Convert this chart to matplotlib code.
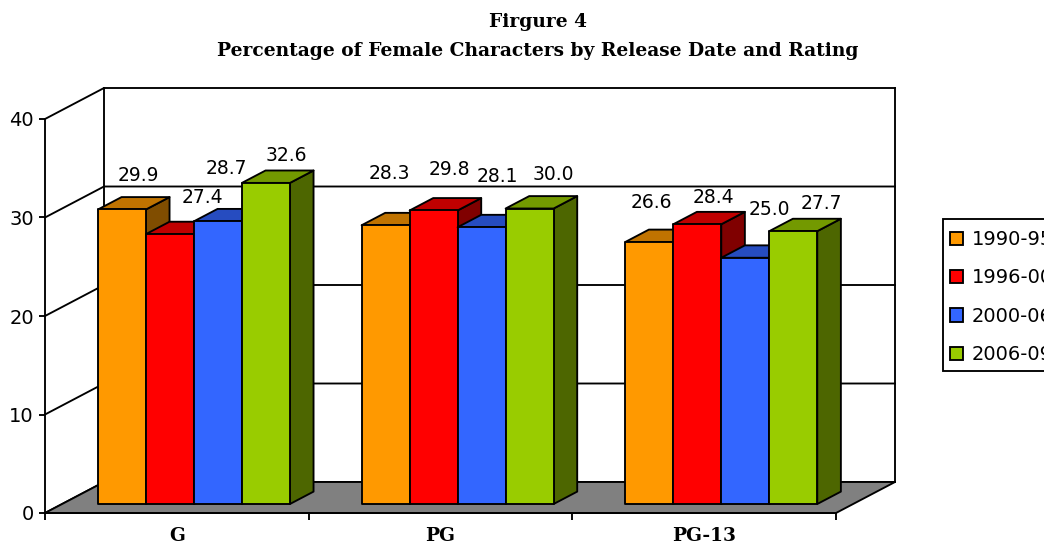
import matplotlib
matplotlib.use("Agg")
import matplotlib.pyplot as plt
from matplotlib.patches import Polygon, Patch, Rectangle

ratings = ["G", "PG", "PG-13"]
periods = ["1990-95", "1996-00", "2000-06", "2006-09"]
v1990 = [29.9, 28.3, 26.6]
v1996 = [27.4, 29.8, 28.4]
v2000 = [28.7, 28.1, 25.0]
v2006 = [32.6, 30.0, 27.7]
series = [v1990, v1996, v2000, v2006]
y_ticks = [0, 10, 20, 30, 40]

front = ["#FF9900", "#FF0000", "#3366FF", "#99CC00"]
top = ["#C07300", "#C00000", "#264CC0", "#739900"]
side = ["#804D00", "#800000", "#1A3380", "#4D6600"]

# label nudges in pixels from the centre of each bar's top edge
nudges = [[(16, -34), (32, -37), (8, -53), (20, -27)],
          [(4, -52), (16, -41), (16, -51), (24, -34)],
          [(2, -39), (16, -27), (24, -48), (28, -28)]]

W, H = 1044, 545
fig = plt.figure(figsize=(W / 100, H / 100), dpi=100, facecolor="white")
L, R, T, B = 45, 836, 119, 513
ax = fig.add_axes([L / W, 1 - B / H, (R - L) / W, (B - T) / H])
ax.set_xlim(0, 3)
ax.set_ylim(0, 40)
ax.patch.set_visible(False)

DX = 59 * 3 / (R - L)      # full chart depth, in x data units
DY = 31 * 40 / (B - T)     # full chart depth, in y data units


def P(x, y, d):
    return (x + DX * d, y + DY * d)


LW = 1.35
EDGE = "black"
SERIF = "DejaVu Serif"


def poly(pts, fc, z=1):
    ax.add_patch(Polygon(pts, closed=True, fc=fc, ec=EDGE, lw=LW, zorder=z,
                         clip_on=False, joinstyle="round"))


# walls
for v in y_ticks:
    ax.plot(*zip(P(0, v, 0), P(0, v, 1), P(3, v, 1)), color="black", lw=LW,
            clip_on=False, zorder=1)
ax.plot(*zip(P(0, 0, 1), P(0, 40, 1)), color="black", lw=LW, clip_on=False, zorder=1)
ax.plot(*zip(P(3, 0, 1), P(3, 40, 1)), color="black", lw=LW, clip_on=False, zorder=1)
# floor
poly([P(0, 0, 0), P(3, 0, 0), P(3, 0, 1), P(0, 0, 1)], "#808080", 1.5)

# bars
bw = 48 * 3 / (R - L)
margin = (1 - 4 * bw) / 2
d0, d1 = 0.29, 0.69
z = 2
for g in range(len(ratings)):
    for s in range(len(periods)):
        v = series[s][g]
        x0 = g + margin + s * bw
        x1 = x0 + bw
        poly([P(x1, 0, d0), P(x1, 0, d1), P(x1, v, d1), P(x1, v, d0)], side[s], z)
        poly([P(x0, v, d0), P(x1, v, d0), P(x1, v, d1), P(x0, v, d1)], top[s], z)
        poly([P(x0, 0, d0), P(x1, 0, d0), P(x1, v, d0), P(x0, v, d0)], front[s], z)
        z += 0.01
        nx, ny = nudges[g][s]
        ax.annotate(f"{v:.1f}", xy=P((x0 + x1) / 2, v, d0), xytext=(nx * 0.72, -ny * 0.72),
                    textcoords="offset points", ha="center", va="center",
                    fontsize=13.5, color="black", zorder=10, annotation_clip=False)

# axes
for sp in ("top", "right"):
    ax.spines[sp].set_visible(False)
for sp in ("left", "bottom"):
    ax.spines[sp].set_linewidth(LW)
    ax.spines[sp].set_zorder(3)
ax.set_yticks(y_ticks)
ax.tick_params(axis="y", length=4, width=LW, labelsize=14, pad=4)
ax.set_xticks(range(4))
ax.set_xticklabels([])
ax.tick_params(axis="x", which="major", length=5, width=LW)
ax.set_xticks([i + 0.5 for i in range(3)], minor=True)
ax.set_xticklabels(ratings, minor=True, family=SERIF, weight="bold", fontsize=13.4)
ax.tick_params(axis="x", which="minor", length=0, pad=10)

# title
fig.text(538 / W, 1 - 22 / H, "Firgure 4", ha="center", va="center",
         family=SERIF, weight="bold", fontsize=13.4)
fig.text(538 / W, 1 - 51 / H, "Percentage of Female Characters by Release Date and Rating",
         ha="center", va="center", family=SERIF, weight="bold", fontsize=13.4)

# legend
fig.add_artist(Rectangle((943 / W, 1 - 371 / H), 130 / W, 152 / H, transform=fig.transFigure,
                         fc="white", ec="black", lw=LW, zorder=-1))
handles = [Patch(fc=c, ec="black", lw=LW) for c in front]
leg = ax.legend(handles, periods, loc="upper left",
                bbox_to_anchor=(950 / W, 1 - 230 / H), bbox_transform=fig.transFigure,
                fontsize=14, frameon=False,
                handlelength=0.67, handleheight=0.67, handletextpad=0.46,
                borderpad=0, borderaxespad=0, labelspacing=1.0)
leg.set_zorder(20)

fig.savefig("out.png", dpi=100)
